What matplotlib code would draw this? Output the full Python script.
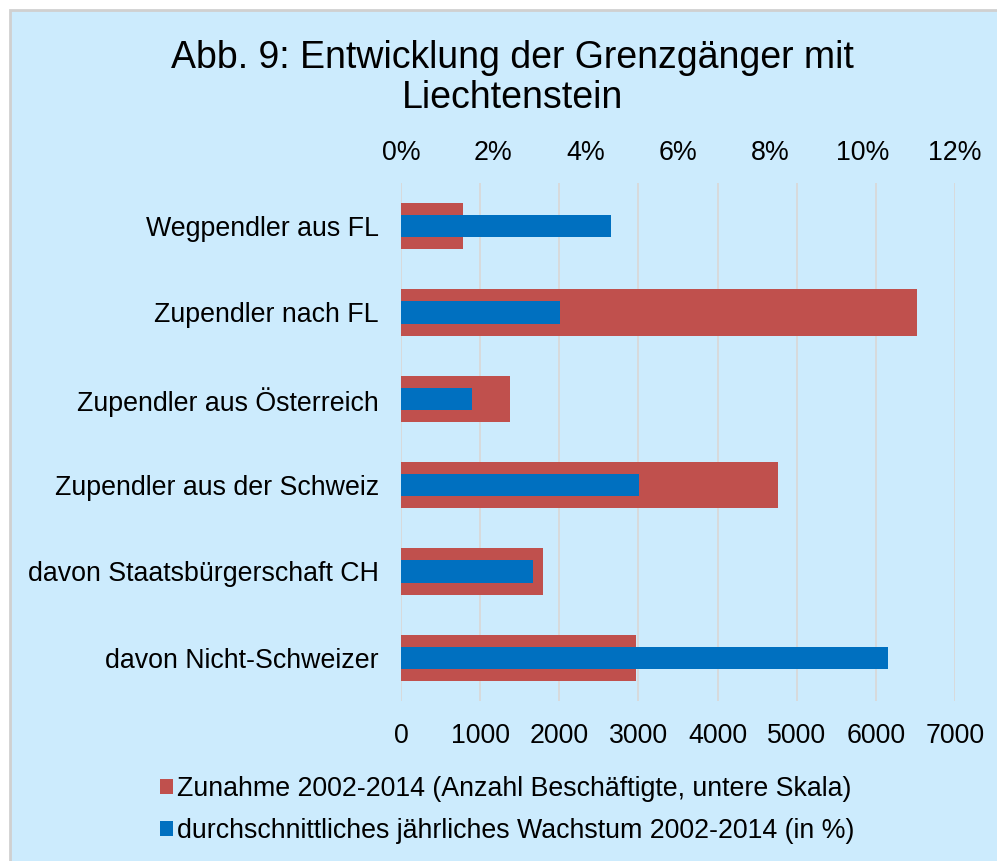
import matplotlib.pyplot as plt
from matplotlib.patches import Rectangle
from matplotlib.ticker import PercentFormatter

plt.rcParams['font.family'] = ['Liberation Sans', 'DejaVu Sans']

# data
categories = ['Wegpendler aus FL', 'Zupendler nach FL', 'Zupendler aus Österreich',
              'Zupendler aus der Schweiz', 'davon Staatsbürgerschaft CH', 'davon Nicht-Schweizer']
zunahme = [779, 6515, 1376, 4760, 1793, 2963]
wachstum = [4.55, 3.45, 1.54, 5.16, 2.86, 10.55]

label_zunahme = 'Zunahme 2002-2014 (Anzahl Beschäftigte, untere Skala)'
label_wachstum = 'durchschnittliches jährliches Wachstum 2002-2014 (in %)'

bg = '#CCEBFD'
red = '#C0504D'
blue = '#0070C0'
fs = 19.3

fig = plt.figure(figsize=(9.97, 8.61), dpi=100)
fig.patch.set_facecolor('white')

# chart area with grey border (cut at right/bottom like the screenshot)
fig.add_artist(Rectangle((10 / 997, -0.05), 1.1, 1 - 10 / 861 + 0.05,
                         transform=fig.transFigure, facecolor=bg,
                         edgecolor='#D0D0D0', linewidth=2, zorder=-1))

ax = fig.add_axes([401 / 997, 160 / 861, 554 / 997, 518 / 861])
ax.set_facecolor('none')
y = list(range(len(categories)))

ax.barh(y, zunahme, height=0.535, color=red, label=label_zunahme, zorder=2)
ax.set_xlim(0, 7000)
ax.set_xticks(range(0, 7001, 1000))
ax.set_ylim(len(categories) - 0.5, -0.5)
ax.set_yticks(y)
ax.set_yticklabels(categories)
ax.grid(axis='x', color='#D9D9D9', linewidth=1.3, zorder=0)
ax.set_axisbelow(True)

ax2 = ax.twiny()
ax2.barh(y, wachstum, height=0.256, color=blue, label=label_wachstum, zorder=3)
ax2.set_xlim(0, 12)
ax2.set_xticks(range(0, 13, 2))
ax2.xaxis.set_major_formatter(PercentFormatter(decimals=0))
ax2.set_ylim(len(categories) - 0.5, -0.5)

for a in (ax, ax2):
    for s in a.spines.values():
        s.set_visible(False)
    a.tick_params(length=0, labelsize=fs, colors='black')
ax.tick_params(axis='x', pad=15.5)
ax.tick_params(axis='y', pad=16)
ax2.tick_params(axis='x', pad=12)

fig.text(512 / 997, 1 - 78 / 861, 'Abb. 9: Entwicklung der Grenzgänger mit\nLiechtenstein',
         ha='center', va='center', fontsize=27, linespacing=1.12)

h1, l1 = ax.get_legend_handles_labels()
h2, l2 = ax2.get_legend_handles_labels()
fig.legend(h1 + h2, l1 + l2, loc='center left', bbox_to_anchor=(160 / 997, 1 - 810 / 861),
           frameon=False, fontsize=fs, handlelength=0.5, handleheight=0.5,
           handletextpad=0.15, labelspacing=0.6, borderaxespad=0, borderpad=0)

fig.savefig('out.png', dpi=100, facecolor=fig.get_facecolor())
